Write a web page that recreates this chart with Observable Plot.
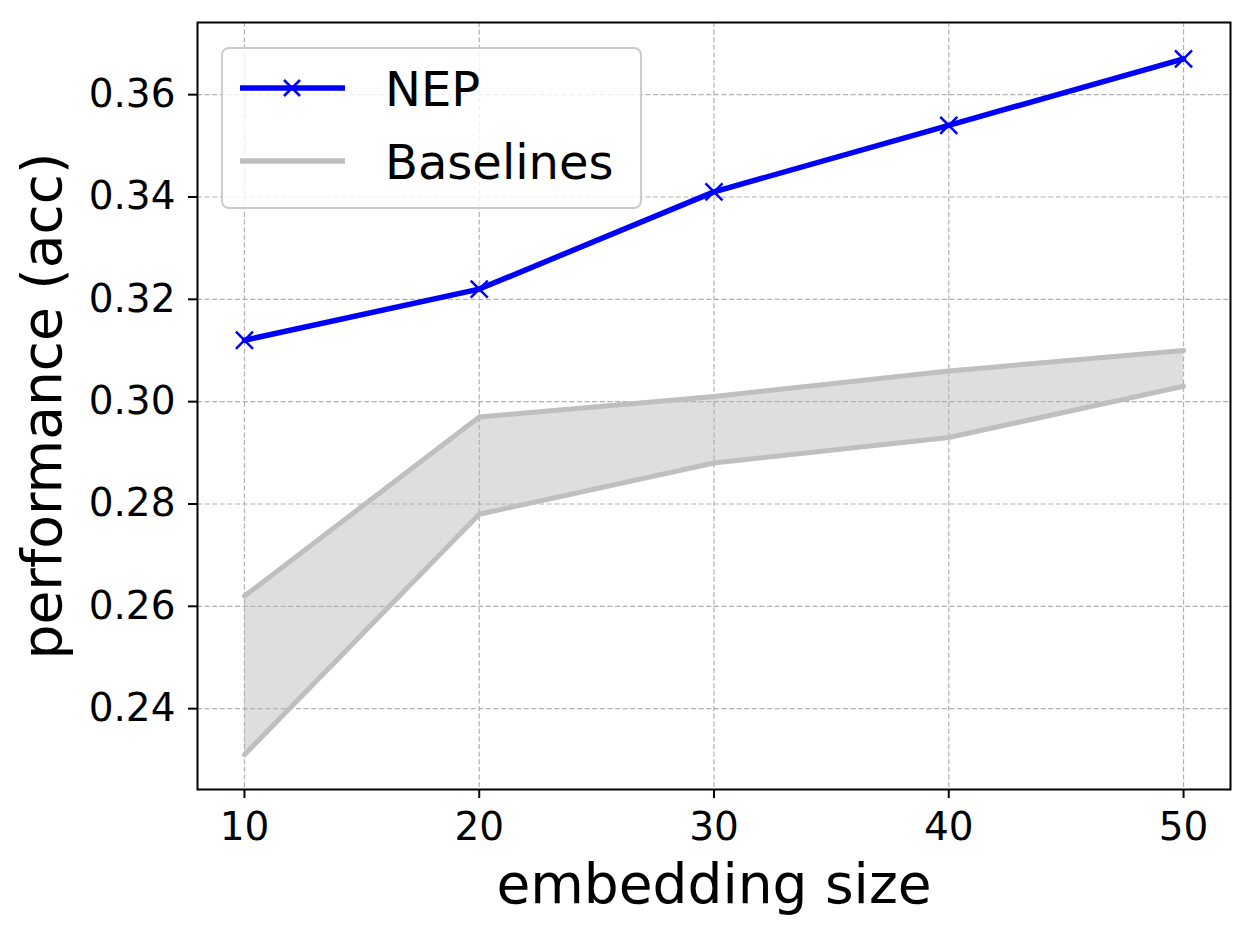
<!DOCTYPE html>
<html>
<head>
<meta charset="utf-8">
<script src="https://cdn.jsdelivr.net/npm/d3@7"></script>
<script src="https://cdn.jsdelivr.net/npm/@observablehq/plot@0.6"></script>
<style>
  html, body { margin: 0; padding: 0; background: #fff; }
  #chart { width: 1254px; height: 934px; }
</style>
</head>
<body>
<div id="chart"></div>
<script>
// ---- data ----
const embeddingSizes = [10, 20, 30, 40, 50];
const nepAcc = [0.312, 0.322, 0.341, 0.354, 0.367];
const baselineUpper = [0.262, 0.297, 0.301, 0.306, 0.310];
const baselineLower = [0.231, 0.278, 0.288, 0.293, 0.303];
const xTicks = [10, 20, 30, 40, 50];
const yTicks = [0.24, 0.26, 0.28, 0.30, 0.32, 0.34, 0.36];
const seriesNames = ["NEP", "Baselines"];

const rows = embeddingSizes.map((x, i) => ({
  x, nep: nepAcc[i], hi: baselineUpper[i], lo: baselineLower[i]
}));

const FONT = "DejaVu Sans";
const BLUE = "#0000ff";
const GREY = "#bfbfbf";

const chart = Plot.plot({
  width: 1254,
  height: 934,
  marginLeft: 197,
  marginRight: 24,
  marginTop: 22,
  marginBottom: 145,
  style: { fontFamily: FONT, background: "white", color: "black" },
  x: { domain: [8, 52] },
  y: { domain: [0.2242, 0.3741] },
  marks: [
    Plot.areaY(rows, { x: "x", y1: "lo", y2: "hi", fill: "#dedede" }),
    Plot.gridX(xTicks, { stroke: "#b0b0b0", strokeOpacity: 1, strokeWidth: 1.2, strokeDasharray: "5,2.6" }),
    Plot.gridY(yTicks, { stroke: "#b0b0b0", strokeOpacity: 1, strokeWidth: 1.2, strokeDasharray: "5,2.6" }),
    Plot.line(rows, { x: "x", y: "hi", stroke: GREY, strokeWidth: 5 }),
    Plot.line(rows, { x: "x", y: "lo", stroke: GREY, strokeWidth: 5 }),
    Plot.line(rows, { x: "x", y: "nep", stroke: BLUE, strokeWidth: 5.5 }),
    Plot.dot(rows, { x: "x", y: "nep", symbol: "times", r: 7.8, stroke: BLUE, strokeWidth: 2.5 }),
    Plot.axisX(xTicks, { tickSize: 9, tickPadding: 14, strokeWidth: 2, fontSize: 39, label: null, tickFormat: d => String(d) }),
    Plot.axisY(yTicks, { tickSize: 9, tickPadding: 13, strokeWidth: 2, fontSize: 39, label: null, tickFormat: d3.format(".2f") }),
    Plot.text(["embedding size"], { frameAnchor: "bottom", dy: 96, text: d => d, fontSize: 55, fill: "black", textAnchor: "middle", lineAnchor: "middle" }),
    Plot.text(["performance (acc)"], { frameAnchor: "left", dx: -154, rotate: -90, text: d => d, fontSize: 55, fill: "black", textAnchor: "middle", lineAnchor: "middle" }),
    Plot.frame({ stroke: "black", strokeWidth: 2 })
  ]
});

document.getElementById("chart").appendChild(chart);

// ---- legend (inside the plot area, upper left) ----
const svg = d3.select(chart);
const lg = svg.append("g").attr("font-family", FONT).attr("text-anchor", "start");
lg.append("rect")
  .attr("x", 222).attr("y", 48).attr("width", 419).attr("height", 160)
  .attr("rx", 7).attr("ry", 7)
  .attr("fill", "white").attr("fill-opacity", 0.8)
  .attr("stroke", "#cccccc").attr("stroke-width", 2);
const legendItems = [
  { name: seriesNames[0], color: BLUE, width: 5.5, marker: true, y: 88, ty: 106 },
  { name: seriesNames[1], color: GREY, width: 5.5, marker: false, y: 161, ty: 179 }
];
legendItems.forEach(it => {
  lg.append("line").attr("x1", 240).attr("x2", 345).attr("y1", it.y).attr("y2", it.y)
    .attr("stroke", it.color).attr("stroke-width", it.width);
  if (it.marker) {
    const s = 8;
    lg.append("path")
      .attr("d", `M${292 - s},${it.y - s}L${292 + s},${it.y + s}M${292 - s},${it.y + s}L${292 + s},${it.y - s}`)
      .attr("stroke", it.color).attr("stroke-width", 2.5).attr("fill", "none");
  }
  lg.append("text").attr("x", 385).attr("y", it.ty).attr("text-anchor", "start")
    .attr("font-size", 48).attr("fill", "black").text(it.name);
});
</script>
</body>
</html>
